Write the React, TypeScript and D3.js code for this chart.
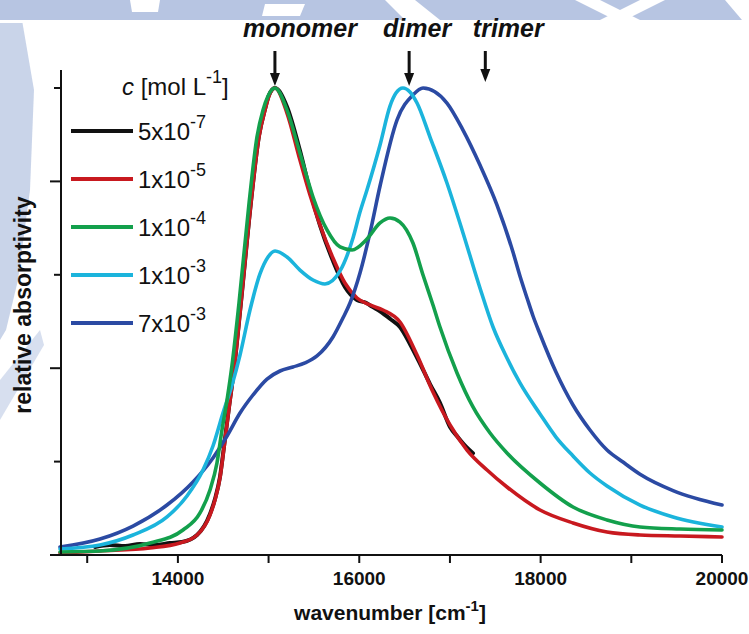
import React from 'react';
import * as d3 from 'd3';

// ---------- data (wavenumber in cm^-1, relative absorptivity in arbitrary units, peak = 5) ----------
const blackWn = [13086,13251,13417,13582,13748,13913,14045,14211,14354,14409,14464,14508,14564,14619,14696,14806,14894,14961,15005,15071,15203,15346,15457,15567,15710,15842,15975,16074,16140,16229,16339,16449,16559,16670,16780,16890,17001,17089,17177,17254];
const blackV = [0.086,0.107,0.096,0.118,0.107,0.128,0.139,0.214,0.439,0.600,0.835,1.156,1.585,1.991,2.709,3.780,4.486,4.775,4.925,5.0,4.80,4.33,3.90,3.53,3.15,2.87,2.73,2.70,2.66,2.61,2.53,2.44,2.26,2.05,1.83,1.63,1.37,1.26,1.16,1.09];

const redWn = [12700,13141,13692,14023,14211,14354,14409,14464,14508,14564,14619,14696,14806,14894,14961,15005,15071,15203,15346,15457,15567,15710,15842,15975,16118,16262,16449,16637,16813,17001,17188,17409,17629,17993,18357,18732,19096,19537,20000];
const redV = [0.021,0.043,0.075,0.128,0.214,0.428,0.589,0.824,1.146,1.574,1.981,2.698,3.769,4.475,4.765,4.915,5.0,4.732,4.229,3.854,3.533,3.180,2.912,2.752,2.677,2.623,2.495,2.141,1.745,1.392,1.124,0.910,0.728,0.482,0.343,0.246,0.214,0.203,0.193];

const greenWn = [12700,13141,13692,14056,14244,14354,14431,14486,14542,14597,14674,14785,14872,14939,14994,15071,15203,15346,15490,15644,15788,15920,16085,16229,16339,16449,16592,16703,16813,16890,17078,17254,17442,17629,17993,18357,18732,19096,19537,20000];
const greenV = [0.032,0.043,0.128,0.268,0.450,0.696,0.985,1.338,1.660,2.034,2.698,3.769,4.475,4.765,4.915,5.0,4.765,4.304,3.833,3.480,3.298,3.266,3.383,3.555,3.608,3.565,3.340,2.998,2.677,2.441,1.949,1.585,1.306,1.092,0.771,0.514,0.375,0.300,0.278,0.268];

const cyanWn = [12700,13141,13505,13880,14100,14277,14387,14497,14597,14685,14795,14905,14994,15071,15203,15346,15490,15622,15788,15931,16008,16085,16229,16339,16405,16482,16559,16637,16780,16967,17144,17331,17475,17629,17772,17993,18169,18357,18544,18732,19096,19460,20000];
const cyanV = [0.064,0.107,0.214,0.407,0.632,0.910,1.167,1.520,1.820,2.141,2.623,3.009,3.191,3.255,3.191,3.051,2.944,2.902,3.041,3.394,3.672,3.908,4.390,4.807,4.946,5.0,4.957,4.839,4.475,3.983,3.448,2.859,2.441,2.109,1.842,1.510,1.263,1.060,0.878,0.739,0.535,0.407,0.300];

const blueWn = [12700,13141,13505,13880,14167,14387,14542,14685,14828,14983,15126,15269,15402,15534,15710,15820,15898,16008,16118,16229,16416,16592,16703,16967,17144,17331,17519,17695,17772,17850,17916,17993,18169,18357,18544,18732,18908,19096,19460,20000];
const blueV = [0.086,0.171,0.310,0.535,0.782,1.039,1.274,1.520,1.713,1.884,1.970,2.013,2.056,2.131,2.334,2.537,2.698,3.019,3.448,3.951,4.657,4.925,5.0,4.839,4.550,4.176,3.747,3.244,2.987,2.752,2.559,2.366,1.959,1.606,1.338,1.124,0.995,0.865,0.690,0.535];

const seriesMant = ['5x10', '1x10', '1x10', '1x10', '7x10'];
const seriesExp = ['-7', '-5', '-4', '-3', '-3'];
const seriesColors = ['#111111', '#c8191f', '#13a04c', '#1bb4dc', '#2b4aa3'];

const xTicks = [13000, 14000, 15000, 16000, 17000, 18000, 19000, 20000];
const xTickLabels = ['14000', '16000', '18000', '20000'];
const yTicks = [0, 1, 2, 3, 4, 5];

const annotationNames = ['monomer', 'dimer', 'trimer'];
const annotationWn = [15070, 16550, 17390];

const FONT = '"Liberation Sans", Arial, Helvetica, sans-serif';

export default function App() {
  const x = d3.scaleLinear().domain([12700, 20000]).range([60, 722]);
  const y = d3.scaleLinear().domain([0, 5]).range([555, 88]);
  const axisX = 61;
  const axisTop = 70;

  const line = d3
    .line<[number, number]>()
    .x((d) => x(d[0]))
    .y((d) => y(d[1]))
    .curve(d3.curveMonotoneX);

  const series: [number[], number[]][] = [
    [blackWn, blackV],
    [redWn, redV],
    [greenWn, greenV],
    [cyanWn, cyanV],
    [blueWn, blueV],
  ];
  const drawOrder = [0, 1, 4, 3, 2];

  const annOffsets = [25, 8, 23];
  const arrowEnd = [86, 86, 82];

  const legendY0 = 131;
  const legendStep = 48;

  return (
    <svg
      width={749}
      height={634}
      style={{ position: 'absolute', left: 0, top: 0, background: '#fff' }}
      fontFamily={FONT}
    >
      {/* watermark remnants */}
      <g fill="#b7c5e2">
        <rect x={0} y={0} width={749} height={20} />
        <path d="M0,20 L22,20 L34,90 L30,190 L18,280 L6,330 L0,340 Z" opacity={0.75} />
        <path d="M0,380 L40,330 L44,345 L0,420 Z" opacity={0.55} />
      </g>
      <g fill="#ffffff">
        <rect x={0} y={20} width={749} height={3} />
        <path d="M130,0 L160,0 L158,12 L132,12 Z" />
        <path d="M265,4 L305,4 L300,16 L262,16 Z" />
        <path d="M385,0 L415,0 L440,20 L405,20 Z" />
        <path d="M575,0 L600,0 L640,20 L615,20 Z" />
        <path d="M640,0 L665,0 L625,20 L600,20 Z" />
        <path d="M725,0 L749,0 L749,20 L742,20 Z" />
      </g>

      {/* curves */}
      {drawOrder.map((i) => {
        const [wn, v] = series[i];
        const pts = wn.map((w, k) => [w, v[k]] as [number, number]);
        return (
          <path
            key={i}
            d={line(pts) || ''}
            fill="none"
            stroke={seriesColors[i]}
            strokeWidth={i === 0 ? 4 : 3.6}
            strokeLinejoin="round"
            strokeLinecap="round"
          />
        );
      })}

      {/* axes */}
      <g stroke="#111" strokeWidth={2} fill="none">
        <line x1={axisX} x2={x(20000)} y1={y(0)} y2={y(0)} />
        <line x1={axisX} x2={axisX} y1={axisTop} y2={y(0)} />
        {xTicks.map((t) => (
          <line key={t} x1={x(t)} x2={x(t)} y1={y(0)} y2={y(0) + 8} />
        ))}
        {yTicks.map((t) => (
          <line key={t} x1={axisX - (t % 2 === 0 ? 11 : 7)} x2={axisX} y1={y(t)} y2={y(t)} />
        ))}
      </g>
      <g fontSize={19} fontWeight="bold" fill="#111" textAnchor="middle">
        {xTickLabels.map((l) => (
          <text key={l} x={x(+l)} y={585}>
            {l}
          </text>
        ))}
      </g>
      <text x={390} y={620} fontSize={21} fontWeight="bold" textAnchor="middle" fill="#111">
        wavenumber [cm
        <tspan fontSize={15} dy={-9}>-1</tspan>
        <tspan dy={9}>]</tspan>
      </text>
      <text
        transform={`translate(31,305) rotate(-90)`}
        fontSize={23}
        fontWeight="bold"
        textAnchor="middle"
        fill="#111"
      >
        relative absorptivity
      </text>

      {/* annotations */}
      {annotationNames.map((n, i) => {
        const ax = x(annotationWn[i]);
        return (
          <g key={n}>
            <text
              x={ax + annOffsets[i]}
              y={37}
              fontSize={25}
              fontWeight="bold"
              fontStyle="italic"
              textAnchor="middle"
              fill="#111"
            >
              {n}
            </text>
            <line x1={ax} x2={ax} y1={51} y2={arrowEnd[i] - 10} stroke="#111" strokeWidth={3} />
            <path
              d={`M${ax - 5},${arrowEnd[i] - 13} L${ax + 5},${arrowEnd[i] - 13} L${ax},${arrowEnd[i]} Z`}
              fill="#111"
            />
          </g>
        );
      })}

      {/* legend */}
      <text x={122} y={95} fontSize={24} fill="#111">
        <tspan fontStyle="italic">c</tspan> [mol L
        <tspan fontSize={18} dy={-12}>-1</tspan>
        <tspan dy={12}>]</tspan>
      </text>
      {seriesMant.map((m, i) => {
        const ly = legendY0 + i * legendStep;
        return (
          <g key={i}>
            <line x1={71} x2={133} y1={ly} y2={ly} stroke={seriesColors[i]} strokeWidth={4} />
            <text x={138} y={ly + 9} fontSize={24} fill="#111">
              {m}
              <tspan fontSize={18} dy={-12}>
                {seriesExp[i]}
              </tspan>
            </text>
          </g>
        );
      })}
    </svg>
  );
}
